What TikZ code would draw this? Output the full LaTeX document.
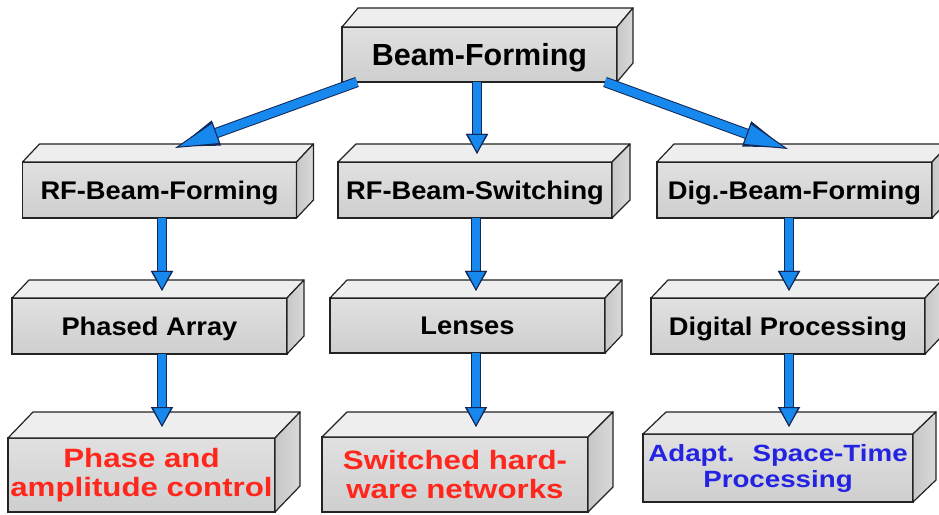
\documentclass[tikz,border=0pt]{standalone}
\usepackage{fontspec}
\setmainfont{Liberation Sans}
\newfontfamily\fa{Liberation Sans}[FakeStretch=1.07]
\newfontfamily\fb{Liberation Sans}[FakeStretch=1.18]
\usetikzlibrary{arrows.meta,calc}
\definecolor{arrblue}{RGB}{22,136,238}
\definecolor{arredge}{RGB}{20,40,85}
\definecolor{edgecol}{RGB}{35,35,35}
\definecolor{redtxt}{RGB}{255,38,28}
\definecolor{bluetxt}{RGB}{35,35,225}
\tikzset{
  front/.style={draw=edgecol, line width=1.2bp, inner sep=0pt, outer sep=0pt,
    top color=gray!24, bottom color=gray!38, font=\bfseries, align=center},
  topface/.style={draw=edgecol, line width=1.2bp, line join=round, fill=gray!13},
  sideface/.style={draw=edgecol, line width=1.2bp, line join=round, left color=gray!44, right color=gray!30},
  lvl0/.style={front, minimum width=275bp, minimum height=55bp, text height=22bp, text depth=0pt,
    font=\fontsize{30.5bp}{36bp}\selectfont\bfseries},
  lvl1/.style={front, minimum width=274bp, minimum height=56bp, text height=18.3bp, text depth=0pt,
    font=\fa\fontsize{25.5bp}{30bp}\selectfont\bfseries},
  lvl3/.style={front, font=\fb\fontsize{26.5bp}{29bp}\selectfont\bfseries},
  varr/.style={line width=8.5bp, draw=arrblue,
    -{Triangle[length=20bp,width=21bp,fill=arrblue,color=arredge,line width=1bp]},
    preaction={draw=arredge, line width=10.5bp, -{Triangle[length=20bp,width=21bp,color=arredge]}}},
  diag/.style={line width=8.5bp, draw=arrblue,
    -{Triangle[length=44bp,width=23bp,fill=arrblue,color=arredge,line width=1bp]},
    preaction={draw=arredge, line width=10.5bp, -{Triangle[length=44bp,width=23bp,color=arredge]}}},
}
\newcommand\boxfaces[3]{%
  \path[topface] (#1.north west) -- ++(#2,#3) -- ([shift={(#2,#3)}]#1.north east) -- (#1.north east) -- cycle;
  \path[sideface] (#1.north east) -- ++(#2,#3) -- ([shift={(#2,#3)}]#1.south east) -- (#1.south east) -- cycle;
}
\begin{document}
\begin{tikzpicture}[x=1bp,y=-1bp]
\useasboundingbox (0,0) rectangle (939,515);
\clip (0,0) rectangle (939,515);

% level 0
\node[lvl0] (bf) at (479.5,54.5) {Beam-Forming};
\boxfaces{bf}{16}{-19}

% level 1
\node[lvl1] (rfbf) at (159.5,190) {RF-Beam-Forming};
\boxfaces{rfbf}{17}{-18}
\node[lvl1] (rfbs) at (475,190) {RF-Beam-Switching};
\boxfaces{rfbs}{18}{-18}
\node[lvl1, minimum width=275bp] (dbf) at (794.5,190) {Dig.-Beam-Forming};
\boxfaces{dbf}{17}{-18}

% level 2
\node[lvl1, minimum width=275bp] (pa) at (149.5,326) {Phased Array};
\boxfaces{pa}{17}{-18}
\node[lvl1, minimum width=275bp, minimum height=55bp] (le) at (467.5,325.5) {Lenses};
\boxfaces{le}{17}{-18}
\node[lvl1] (dp) at (788,326) {Digital Processing};
\boxfaces{dp}{17}{-18}

% level 3
\node[lvl3, minimum width=267bp, minimum height=74bp, text=redtxt] (pac) at (141.5,475) {Phase and\\amplitude control};
\boxfaces{pac}{25}{-26}
\node[lvl3, minimum width=266bp, minimum height=75bp, text=redtxt] (shn) at (455,474.5) {Switched hard-\\ware networks};
\boxfaces{shn}{25}{-25}
\node[lvl3, minimum width=270bp, minimum height=68bp, text=bluetxt,
      font=\fb\fontsize{23.5bp}{26bp}\selectfont\bfseries] (ast) at (778,468) {Adapt.~ Space-Time\\Processing};
\boxfaces{ast}{23}{-22}

% arrow end points
\coordinate (tA) at (175,148);
\coordinate (tB) at (477,154);
\coordinate (tC) at (788,149);
\coordinate (t1) at (162,291);
\coordinate (t2) at (162,427);
\coordinate (t3) at (476,291);
\coordinate (t4) at (476,427);
\coordinate (t5) at (789,291);
\coordinate (t6) at (789,427);

% arrows
\draw[diag] ([xshift=15bp]bf.south west) -- (tA);
\draw[varr] (bf.south -| tB) -- (tB);
\draw[diag] ([xshift=-12bp]bf.south east) -- (tC);
\draw[varr] (rfbf.south -| t1) -- (t1);
\draw[varr] (pa.south -| t2) -- (t2);
\draw[varr] (rfbs.south -| t3) -- (t3);
\draw[varr] (le.south -| t4) -- (t4);
\draw[varr] (dbf.south -| t5) -- (t5);
\draw[varr] (dp.south -| t6) -- (t6);
\end{tikzpicture}
\end{document}
